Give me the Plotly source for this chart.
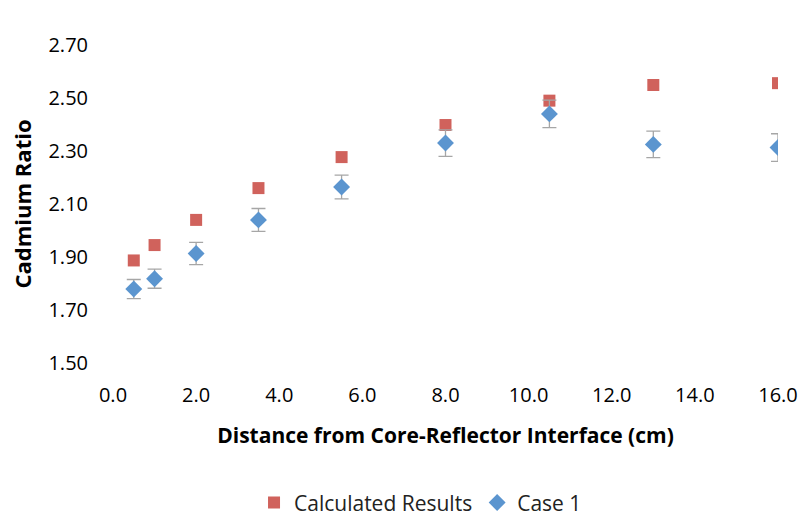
import plotly.graph_objects as go

distance = [0.5, 1.0, 2.0, 3.5, 5.5, 8.0, 10.5, 13.0, 16.0]
calculated = [1.887, 1.945, 2.040, 2.160, 2.277, 2.398, 2.490, 2.549, 2.556]
case1 = [1.779, 1.818, 1.913, 2.040, 2.164, 2.330, 2.440, 2.325, 2.313]
case1_err = [0.036, 0.036, 0.042, 0.043, 0.045, 0.050, 0.052, 0.050, 0.052]

x_ticks = [0, 2, 4, 6, 8, 10, 12, 14, 16]
y_ticks = [1.50, 1.70, 1.90, 2.10, 2.30, 2.50, 2.70]

font_family = "Open Sans, sans-serif"

fig = go.Figure()
fig.add_trace(go.Scatter(
    x=distance, y=calculated, mode="markers", name="Calculated Results",
    marker=dict(symbol="square", size=12, color="#D0625C"),
))
fig.add_trace(go.Scatter(
    x=distance, y=case1, mode="markers", name="Case 1",
    marker=dict(symbol="diamond", size=13, color="#5B95CF"),
    error_y=dict(type="data", array=case1_err, visible=True, color="#A6A6A6",
                 thickness=1.3, width=7),
))

fig.update_layout(
    width=801, height=520,
    margin=dict(l=113, r=23, t=45, b=157, autoexpand=False),
    plot_bgcolor="white", paper_bgcolor="white",
    font=dict(family=font_family, size=20, color="#000000"),
    showlegend=True,
    legend=dict(orientation="h", xref="container", yref="paper",
                x=0.525, y=-0.44, xanchor="center", yanchor="middle",
                font=dict(size=21, color="#222222"), itemwidth=30),
    xaxis=dict(range=[0, 16], tickvals=x_ticks,
               ticktext=[f"{v:.1f}" for v in x_ticks],
               showgrid=False, zeroline=False, showline=False,
               automargin=False, ticklabelstandoff=18,
               title=dict(text="<b>Distance from Core-Reflector Interface (cm)</b>",
                          font=dict(size=21), standoff=21)),
    yaxis=dict(range=[1.5, 2.7], tickvals=y_ticks,
               ticktext=[f"{v:.2f}" for v in y_ticks],
               showgrid=False, zeroline=False, showline=False,
               automargin=False, ticklabelstandoff=24,
               title=dict(text="<b>Cadmium Ratio</b>", font=dict(size=22), standoff=10)),
)

fig.write_html("out.html", config={"displayModeBar": False},
               post_script="document.body.style.margin='0';document.body.style.overflow='hidden';")
